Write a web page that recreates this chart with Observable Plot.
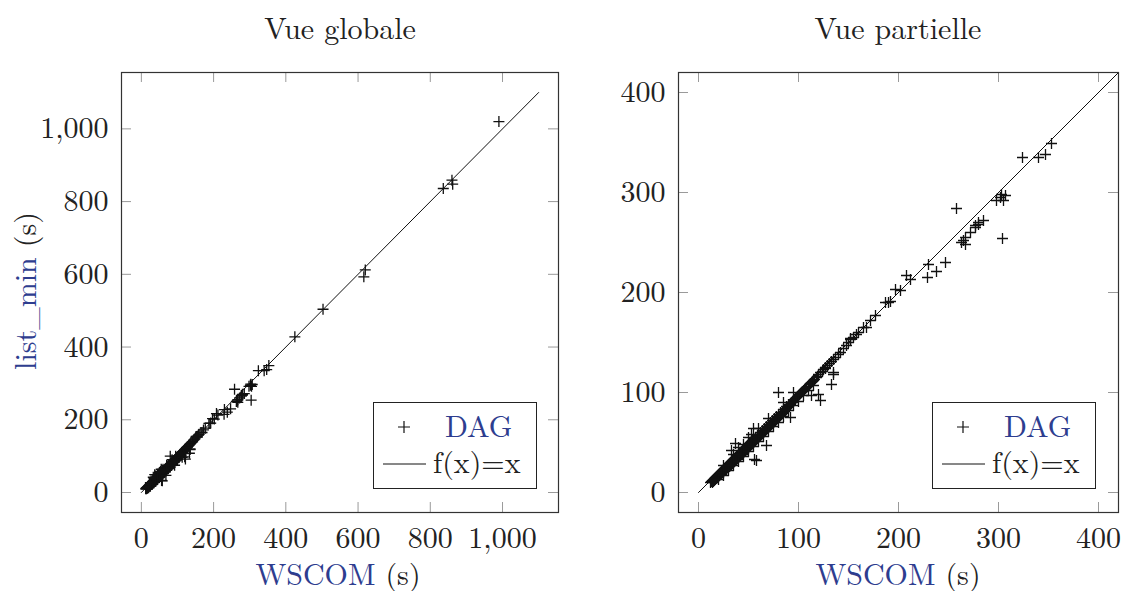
<!DOCTYPE html>
<html><head><meta charset="utf-8">
<script src="https://cdn.jsdelivr.net/npm/d3@7"></script>
<script src="https://cdn.jsdelivr.net/npm/@observablehq/plot@0.6"></script>
<style>
body{margin:0;background:#fff;}
#root{position:relative;width:1122px;height:591px;overflow:hidden;font-family:"Latin Modern Roman","CMU Serif","Liberation Serif","DejaVu Serif","Noto Serif",FreeSerif,"Nimbus Roman","Nimbus Roman No9 L",Tinos,"Times New Roman",Times,Georgia,serif;color:#222;}
.abs{position:absolute;white-space:nowrap;line-height:20px;font-size:30px;}
.blue{color:#2e3d8f;}
.legend{position:absolute;border:1.2px solid #222;box-sizing:border-box;background:#fff;}
</style>
</head><body>
<div id="root"></div>
<script>
// ---- data (WSCOM time vs list_min time, seconds) ----
const wscom = [
  // near diagonal
  12,14,15,16,17,18,19,20,21,22, 23,24,25,26,27,28,29,30,31,32,
  33,34,35,36,37,38,39,40,41,42, 43,44,45,46,47,48,49,50,51,52,
  53,54,55,57,59,60,62,64,66,68, 70,72,74,76,78,80,82,85,88,90,
  93,95,97,99,101,103,105,107,110,112, 114,116,119,122,125,129,133,137,142,148,
  152,155,
  // slightly below
  13,14,15,16,17,18,19,20,21,22, 23,24,25,26,27,28,29,30,31,32,
  33,34,35,36,37,38,39,40,41,42, 43,44,45,46,47,48,49,50,51,52,
  53,54,55,56,57,58,59,60,61,62, 63,64,65,66,67,68,69,70,71,72,
  73,74,75,76,77,78,79,80,81,82, 83,84,85,86,87,88,89,90,91,92,
  94,96,98,100,102,104,106,108,111,113, 115,118,120,124,127,131,135,140,145,150,
  // further below
  20,25,30,35,40,45,50,55,60,65, 70,75,80,85,90,95,100,105,110,115,
  // above
  25,35,33,37,40,45,50,53,55,60, 70,85,95,80,
  // sparse
  58,56,68,92,113,120,122,133,135,135, 127,152,158,160,165,168,172,177,187,190,
  192,197,202,208,212,229,230,238,247,258, 263,265,267,267,272,277,277,280,280,285,
  298,302,303,305,307,304,324,340,347,353, 425,503,616,620,836,860,862,990
];
const listMin = [
  10,12,13,14,15,16,17,18,19,20, 21,22,23,24,25,26,27,28,29,30,
  31,32,33,34,35,36,37,38,39,40, 41,42,43,44,45,46,47,48,49,50,
  51,52,53,55,57,58,60,62,64,66, 68,70,72,74,76,78,80,83,86,88,
  90,92,94,96,98,100,102,104,106,109, 111,113,116,120,123,127,131,135,140,147,
  153,155,
  11,10,11,12,13,14,15,16,17,18, 18,20,20,22,22,23,25,25,26,27,
  28,29,30,31,32,33,34,35,36,37, 38,38,40,41,42,43,44,44,46,47,
  48,49,50,51,52,53,54,55,56,57, 58,59,60,61,62,63,64,65,66,67,
  68,69,70,71,72,73,74,75,76,77, 78,79,80,81,82,84,85,86,87,88,
  90,93,95,97,99,101,103,105,108,110, 112,115,118,121,125,129,133,138,144,150,
  13,17,22,27,31,36,41,46,51,56, 61,66,70,76,82,87,91,97,102,107,
  27,38,42,49,45,48,55,58,64,64, 74,90,100,100,
  32,33,47,75,97,98,92,108,118,120, 124,154,158,160,165,165,172,177,190,190,
  191,203,202,217,213,215,228,221,230,284, 250,252,248,255,260,265,267,268,270,272,
  292,295,298,292,297,254,335,335,338,349, 428,504,593,612,836,859,848,1020
];
const diag = [0, 1100];            // f(x)=x
const ticksGlobal = [0, 200, 400, 600, 800, 1000];
const ticksPartial = [0, 100, 200, 300, 400];
const domainGlobal = [-55, 1155];
const domainPartial = [-20, 420];
const titles = ["Vue globale", "Vue partielle"];
const xLabel = "WSCOM", yLabel = "list_min", unit = "(s)";
const legendLabels = ["DAG", "f(x)=x"];

const FONT = '"Latin Modern Roman","CMU Serif","Liberation Serif","DejaVu Serif","Noto Serif",FreeSerif,"Nimbus Roman",Tinos,"Times New Roman",Times,Georgia,serif';
const points = wscom.map((w, i) => ({w, l: listMin[i]}));
const plusSymbol = {draw(ctx, size) { const r = Math.sqrt(size / Math.PI); ctx.moveTo(-r, 0); ctx.lineTo(r, 0); ctx.moveTo(0, -r); ctx.lineTo(0, r); }};
const fmt = d3.format(",");

function panel(domain, ticks, width, ml, mr) {
  const H = 591, mt = 72, mb = 79;
  const ih = H - mt - mb, iw = width - ml - mr, tl = 10;
  return Plot.plot({
    width, height: H, marginLeft: ml, marginRight: mr, marginTop: mt, marginBottom: mb,
    x: {domain}, y: {domain},
    style: {fontFamily: FONT, fontSize: "30px", color: "#222", background: "transparent", overflow: "visible"},
    marks: [
      Plot.tickX(ticks, {x: d => d, insetTop: ih - tl, stroke: "#9a9a9a", strokeWidth: 1}),
      Plot.tickX(ticks, {x: d => d, insetBottom: ih - tl, stroke: "#9a9a9a", strokeWidth: 1}),
      Plot.tickY(ticks, {y: d => d, insetRight: iw - tl, stroke: "#9a9a9a", strokeWidth: 1}),
      Plot.tickY(ticks, {y: d => d, insetLeft: iw - tl, stroke: "#9a9a9a", strokeWidth: 1}),
      Plot.line(diag, {x: d => d, y: d => d, stroke: "#111", strokeWidth: 1, clip: true}),
      Plot.dot(points, {x: "w", y: "l", symbol: plusSymbol, r: 5.5, fill: "none", stroke: "#111", strokeWidth: 1.3, clip: true}),
      Plot.frame({stroke: "#333", strokeWidth: 1.2}),
      Plot.axisX(ticks, {tickSize: 0, tickPadding: 14, tickFormat: fmt, label: null, fontSize: 30, fontFamily: FONT, fill: "#222"}),
      Plot.axisY(ticks, {tickSize: 0, tickPadding: 13, tickFormat: fmt, label: null, fontSize: 30, fontFamily: FONT, fill: "#222"})
    ]
  });
}

const root = document.getElementById("root");
function place(el, left, top) { el.style.position = "absolute"; el.style.left = left + "px"; el.style.top = top + "px"; root.appendChild(el); }

place(panel(domainGlobal, ticksGlobal, 560, 121, 2), 0, 0);
place(panel(domainPartial, ticksPartial, 562, 118, 4), 560, 0);

function text(html, cx, top, extra = "") {
  const d = document.createElement("div");
  d.className = "abs";
  d.innerHTML = html;
  d.style.cssText += extra;
  root.appendChild(d);
  const w = d.getBoundingClientRect().width;
  d.style.left = (cx - w / 2) + "px";
  d.style.top = top + "px";
  return d;
}
// titles
text(titles[0], 340, 17);
text(titles[1], 898, 17);
// x labels
text(`<span class="blue">${xLabel}</span> ${unit}`, 338, 563);
text(`<span class="blue">${xLabel}</span> ${unit}`, 898, 563);
// y label (rotated)
const yl = document.createElement("div");
yl.className = "abs";
yl.innerHTML = `<span class="blue">${yLabel}</span> ${unit}`;
root.appendChild(yl);
const yw = yl.getBoundingClientRect().width;
yl.style.top = (291 - 10) + "px";
yl.style.left = (24 - yw / 2) + "px";
yl.style.transformOrigin = "50% 50%";
yl.style.transform = "rotate(-90deg)";

// legends
function legend(left, top) {
  const box = document.createElement("div");
  box.className = "legend";
  box.style.left = left + "px"; box.style.top = top + "px";
  box.style.width = "164px"; box.style.height = "87px";
  box.innerHTML = `
    <svg style="position:absolute;left:22px;top:16px" width="16" height="16"><path d="M2,8H14M8,2V14" stroke="#111" stroke-width="1.2"/></svg>
    <div class="abs blue" style="left:71px;top:12px">${legendLabels[0]}</div>
    <svg style="position:absolute;left:9px;top:58px" width="44" height="6"><path d="M0,3H43" stroke="#111" stroke-width="1"/></svg>
    <div class="abs" style="left:59px;top:48px">${legendLabels[1]}</div>`;
  root.appendChild(box);
}
legend(373, 402);
legend(932, 402);
</script>
</body></html>
